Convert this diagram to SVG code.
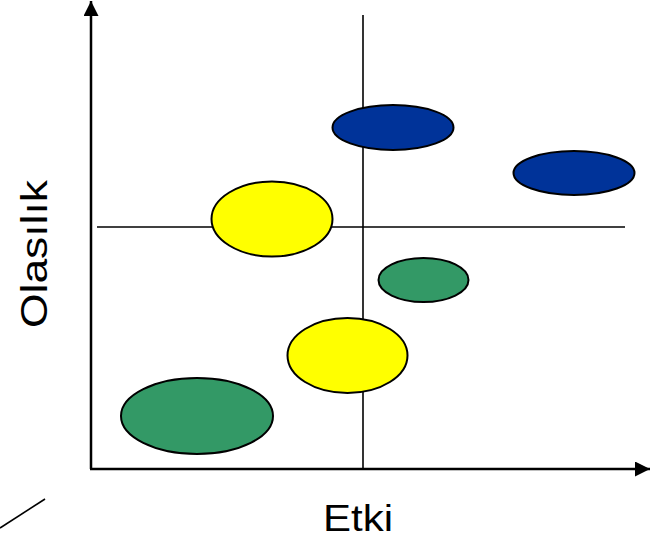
<svg xmlns="http://www.w3.org/2000/svg" width="660" height="543" viewBox="0 0 660 543">
<style>
.ax{stroke:#000;stroke-width:2.5;fill:none}
.dv{stroke:#000;stroke-width:1.6;fill:none}
.el{stroke:#000;stroke-width:2}
.blue{fill:#003399}
.yel{fill:#FFFF00}
.grn{fill:#339966}
.lbl{font-family:"Liberation Sans",Arial,sans-serif;font-size:36px;fill:#000}
</style>
<defs>
<marker id="ah" markerUnits="userSpaceOnUse" markerWidth="16" markerHeight="16" refX="15" refY="7.5" orient="auto">
<path d="M0,0 L15,7.5 L0,15 Z" fill="#000"/>
</marker>
</defs>
<g id="connectors">
<line class="ax" x1="91" y1="469" x2="91" y2="1" marker-end="url(#ah)"/>
<line class="ax" x1="90" y1="469" x2="650" y2="469" marker-end="url(#ah)"/>
<line class="dv" x1="363" y1="15" x2="363" y2="469"/>
<line class="dv" x1="97" y1="227" x2="625" y2="227"/>
<line class="dv" x1="0" y1="528" x2="45" y2="499"/>
</g>
<g id="node-blue-1"><ellipse class="el blue" cx="393" cy="127.5" rx="60.5" ry="22.5"/></g>
<g id="node-blue-2"><ellipse class="el blue" cx="574" cy="173" rx="60.5" ry="22"/></g>
<g id="node-yellow-1"><ellipse class="el yel" cx="272" cy="219" rx="60.5" ry="37.5"/></g>
<g id="node-green-1"><ellipse class="el grn" cx="423.5" cy="280" rx="45" ry="22"/></g>
<g id="node-yellow-2"><ellipse class="el yel" cx="347.5" cy="355.5" rx="60" ry="37.5"/></g>
<g id="node-green-2"><ellipse class="el grn" cx="197" cy="416" rx="76" ry="38"/></g>
<g id="label-x"><text class="lbl" x="323" y="531" textLength="70" lengthAdjust="spacingAndGlyphs">Etki</text></g>
<g id="label-y"><text class="lbl" transform="translate(47,328) rotate(-90)" x="0" y="0" textLength="148" lengthAdjust="spacingAndGlyphs">Olasılık</text></g>
</svg>
